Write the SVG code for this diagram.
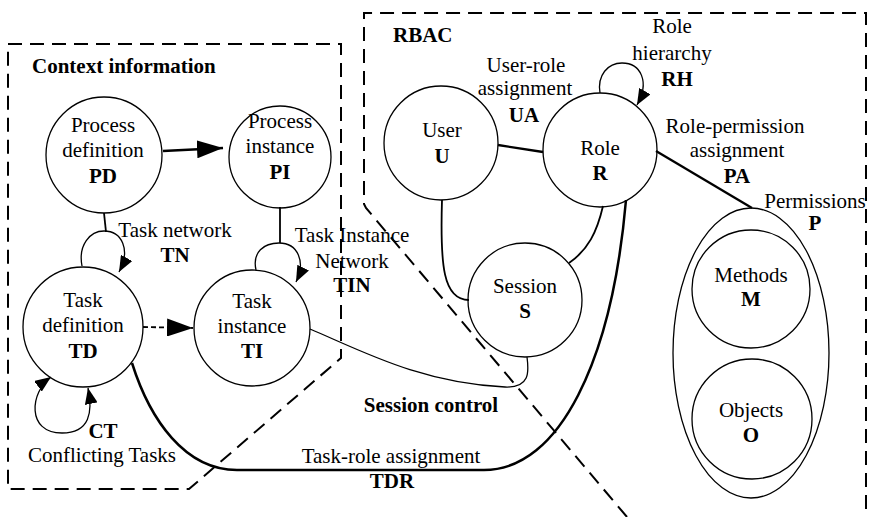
<svg xmlns="http://www.w3.org/2000/svg" width="870" height="517" viewBox="0 0 870 517">
<style>
text{font-family:"Liberation Serif","Times New Roman","DejaVu Serif",serif;font-size:21px;fill:#000;text-anchor:middle}
.b{font-weight:bold}
.l{text-anchor:start}
.node{fill:none;stroke:#000;stroke-width:1.3}
.box{fill:none;stroke:#000;stroke-width:2;stroke-dasharray:14 8}
.c{fill:none;stroke:#000}
.thick{stroke-width:2.3}
.med{stroke-width:1.8}
.thin{stroke-width:1.3}
</style>
<defs>
<marker id="big" markerUnits="userSpaceOnUse" markerWidth="26" markerHeight="18" refX="26" refY="9" orient="auto">
<path d="M0,0 L26,9 L0,18 Z" fill="#000"/>
</marker>
<marker id="sm" markerUnits="userSpaceOnUse" markerWidth="16" markerHeight="13" refX="16" refY="6.5" orient="auto-start-reverse">
<path d="M0,0 L16,6.5 L0,13 Z" fill="#000"/>
</marker>
</defs>
<g font-family="Liberation Serif, Times New Roman, DejaVu Serif, serif">
<g id="context-box">
<path class="box" d="M8,44 H341 V358 L189,489 H8 Z"/>
<text class="b l" x="32" y="73">Context information</text>
</g>
<g id="rbac-box">
<path class="box" d="M627,517 L366,208 L364,204 V13 H866 V517"/>
<text class="b l" x="393" y="42">RBAC</text>
</g>
<g id="connectors">
<path class="c thick" d="M163,151 L223,148" marker-end="url(#big)"/>
<path class="c med" d="M143,327 L193,328" stroke-dasharray="5 3" marker-end="url(#big)"/>
<path class="c med" d="M104,213 L106,232"/>
<path class="c thin" d="M82,266 C78,245 90,231 104,231 C122,231 131,250 119,272" marker-end="url(#sm)"/>
<path class="c med" d="M280,207 L280,243"/>
<path class="c thin" d="M256,270 C252,252 264,243 279,243 C298,243 306,262 296,282" marker-end="url(#sm)"/>
<path class="c thin" d="M51,377 C30,392 26,433 62,433 C90,433 93,412 88,388" marker-start="url(#sm)" marker-end="url(#sm)"/>
<path class="c thin" d="M600,93 C597,75 608,63 622,63 C641,63 650,82 637,105" marker-end="url(#sm)"/>
<path class="c thick" d="M498,145 L543,152"/>
<path class="c thick" d="M656,151 L752,208"/>
<path class="c med" d="M442,200 C440,265 443,300 469,300"/>
<path class="c med" d="M603,206 C597,232 588,250 569,263"/>
<path class="c thin" d="M310,329 C360,350 420,383 505,387 C530,388 529,372 527,357"/>
<path class="c" stroke-width="2.5" d="M132,363 C150,420 185,470 237,470 L484,470 C560,470 612,360 626,200"/>
<text x="175" y="237">Task network</text>
<text class="b" x="175" y="262">TN</text>
<text x="352" y="242">Task Instance</text>
<text x="352" y="268">Network</text>
<text class="b" x="352" y="292">TIN</text>
<text class="b" x="103" y="438">CT</text>
<text x="102" y="462">Conflicting Tasks</text>
<text class="b" x="431" y="412">Session control</text>
<text x="391" y="463">Task-role assignment</text>
<text class="b" x="392" y="488">TDR</text>
<text x="526" y="72">User-role</text>
<text x="525" y="95">assignment</text>
<text class="b" x="524" y="122">UA</text>
<text x="672" y="33">Role</text>
<text x="672" y="60">hierarchy</text>
<text class="b" x="677" y="86">RH</text>
<text x="735" y="133">Role-permission</text>
<text x="737" y="157">assignment</text>
<text class="b" x="737" y="183">PA</text>
</g>
<g id="PD">
<circle class="node" cx="104" cy="155" r="58"/>
<text x="103" y="132">Process</text>
<text x="103" y="157">definition</text>
<text class="b" x="103" y="183">PD</text>
</g>
<g id="PI">
<circle class="node" cx="280" cy="157" r="51"/>
<text x="280" y="128">Process</text>
<text x="280" y="153">instance</text>
<text class="b" x="280" y="179">PI</text>
</g>
<g id="TD">
<circle class="node" cx="83" cy="327" r="60"/>
<text x="83" y="307">Task</text>
<text x="83" y="332">definition</text>
<text class="b" x="83" y="358">TD</text>
</g>
<g id="TI">
<circle class="node" cx="252" cy="328" r="58"/>
<text x="252" y="308">Task</text>
<text x="252" y="333">instance</text>
<text class="b" x="252" y="358">TI</text>
</g>
<g id="U">
<circle class="node" cx="441" cy="143" r="57"/>
<text x="442" y="137">User</text>
<text class="b" x="442" y="163">U</text>
</g>
<g id="R">
<circle class="node" cx="600" cy="150" r="57"/>
<text x="600" y="155">Role</text>
<text class="b" x="600" y="180">R</text>
</g>
<g id="S">
<circle class="node" cx="525" cy="300" r="57"/>
<text x="525" y="293">Session</text>
<text class="b" x="525" y="318">S</text>
</g>
<g id="P">
<ellipse class="node" cx="751" cy="353" rx="78" ry="145"/>
<text x="815" y="208">Permissions</text>
<text class="b" x="815" y="230">P</text>
</g>
<g id="M">
<circle class="node" cx="751" cy="289" r="59"/>
<text x="751" y="282">Methods</text>
<text class="b" x="751" y="306">M</text>
</g>
<g id="O">
<circle class="node" cx="752" cy="419" r="60"/>
<text x="751" y="417">Objects</text>
<text class="b" x="751" y="442">O</text>
</g>
</g>
</svg>
